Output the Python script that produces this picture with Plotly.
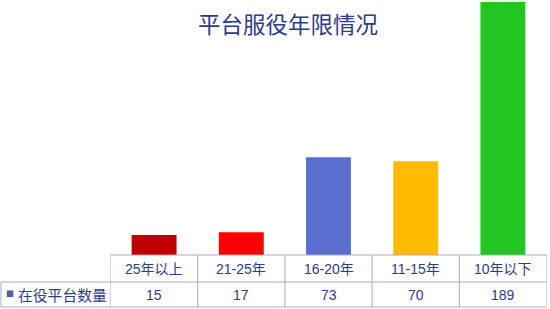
import plotly.graph_objects as go

# Chart data
categories = ["25年以上", "21-25年", "16-20年", "11-15年", "10年以下"]
counts = [15, 17, 73, 70, 189]
bar_colors = ["#C00000", "#FF0000", "#5B6FD0", "#FFBB00", "#22C522"]
series_name = "在役平台数量"
title_text = "平台服役年限情况"

W, H = 550, 309
TEXT_COLOR = "#2E3A8A"
GRID_COLOR = "#A9A9C9"
FONT = "Liberation Sans Narrow, Liberation Sans, Noto Sans CJK SC, sans-serif"
TITLE_FONT = "Noto Sans CJK SC, sans-serif"


def py(pix):
    """Convert a pixel row (from top) into paper y coordinate."""
    return 1 - pix / H


def px(pix):
    return pix / W


fig = go.Figure(
    go.Bar(
        x=list(range(len(categories))),
        y=counts,
        marker=dict(color=bar_colors, line=dict(width=0)),
        name=series_name,
        hoverinfo="x+y",
    )
)

x_left, x_right = 110.5, 546.5
table_top, row_mid, table_bottom = 255, 282, 307

shapes = []
# horizontal table rules
shapes.append(dict(type="line", xref="paper", yref="paper",
                   x0=px(x_left), x1=px(x_right), y0=py(table_top), y1=py(table_top),
                   line=dict(color=GRID_COLOR, width=1)))
for yy in (row_mid, table_bottom):
    shapes.append(dict(type="line", xref="paper", yref="paper",
                       x0=px(1), x1=px(x_right), y0=py(yy), y1=py(yy),
                       line=dict(color=GRID_COLOR, width=1)))
# vertical table rules at category boundaries
for i in range(len(categories) + 1):
    shapes.append(dict(type="line", xref="x", yref="paper",
                       x0=i - 0.5, x1=i - 0.5, y0=py(table_top), y1=py(table_bottom),
                       line=dict(color=GRID_COLOR, width=1)))
# left edge of the series label cell
shapes.append(dict(type="line", xref="paper", yref="paper",
                   x0=px(1), x1=px(1), y0=py(row_mid), y1=py(table_bottom),
                   line=dict(color=GRID_COLOR, width=1)))
# legend key square
shapes.append(dict(type="rect", xref="paper", yref="paper",
                   x0=px(6.8), x1=px(13.4), y0=py(297), y1=py(290.4),
                   fillcolor="#5060A8", line=dict(width=0)))

annotations = []
for i, (cat, val) in enumerate(zip(categories, counts)):
    annotations.append(dict(x=i, y=py(268.5), xref="x", yref="paper",
                            text=cat, showarrow=False, xanchor="center", yanchor="middle",
                            font=dict(family=FONT, size=14, color=TEXT_COLOR)))
    annotations.append(dict(x=i, y=py(294.5), xref="x", yref="paper",
                            text=str(val), showarrow=False, xanchor="center", yanchor="middle",
                            font=dict(family=FONT, size=14, color=TEXT_COLOR)))
annotations.append(dict(x=px(15.5), y=py(294.5), xref="paper", yref="paper",
                        text=series_name, showarrow=False, xanchor="left", yanchor="middle",
                        font=dict(family=TITLE_FONT, size=14.8, color=TEXT_COLOR)))
annotations.append(dict(x=px(288), y=py(23), xref="paper", yref="paper",
                        text=title_text, showarrow=False, xanchor="center", yanchor="middle",
                        font=dict(family=TITLE_FONT, size=22.5, color=TEXT_COLOR)))

fig.update_layout(
    width=W, height=H,
    margin=dict(l=0, r=0, t=0, b=0),
    paper_bgcolor="white", plot_bgcolor="white",
    showlegend=False,
    bargap=0.485,
    xaxis=dict(domain=[px(x_left), px(x_right)], range=[-0.5, len(categories) - 0.5],
               showticklabels=False, showgrid=False, zeroline=False, showline=False, ticks=""),
    yaxis=dict(domain=[py(table_top), 1], range=[0, 190.5],
               showticklabels=False, showgrid=False, zeroline=False, showline=False, ticks=""),
    shapes=shapes,
    annotations=annotations,
)

fig.write_html("out.html")
